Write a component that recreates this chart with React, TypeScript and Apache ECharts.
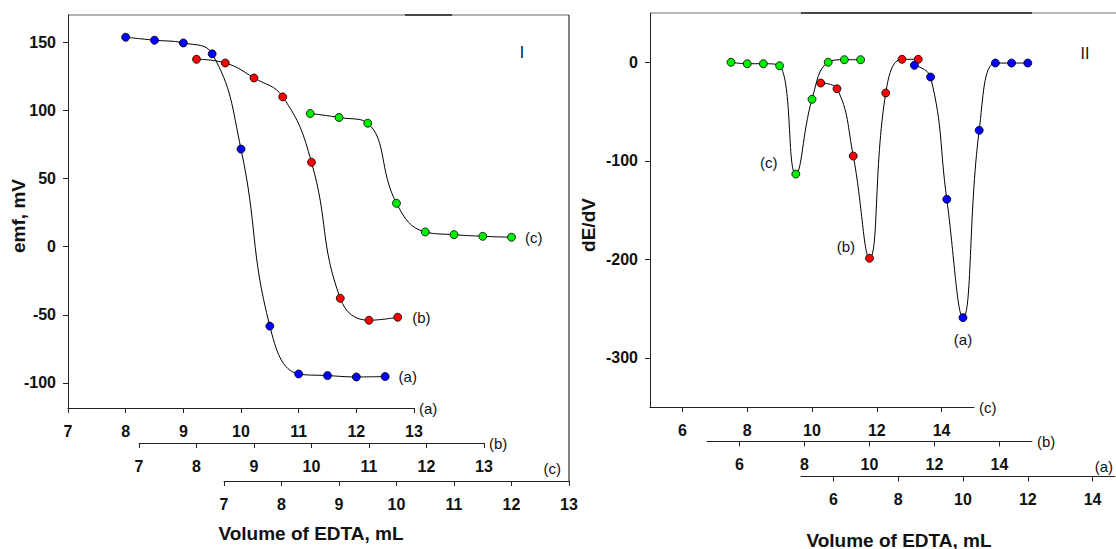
import React, { useEffect, useRef } from "react";
import * as echarts from "echarts";

// ---------- data ----------
// Panel I : emf vs volume of EDTA, each series on its own x axis
const emfAx = [8, 8.5, 9, 9.5, 10, 10.5, 11, 11.5, 12, 12.5];
const emfAy = [153.7, 151.5, 149.5, 141.5, 71.6, -58.3, -93.4, -94.6, -95.6, -95.3];
const emfBx = [8, 8.5, 9, 9.5, 10, 10.5, 11, 11.5];
const emfBy = [137.5, 134.8, 123.8, 109.9, 61.9, -37.9, -54.0, -51.8];
const emfCx = [8.5, 9, 9.5, 10, 10.5, 11, 11.5, 12];
const emfCy = [97.7, 94.8, 90.6, 31.8, 10.8, 8.8, 7.6, 6.9];

// Panel II : dE/dV vs volume of EDTA
const dCx = [7.5, 8, 8.5, 9, 9.5, 10, 10.5, 11, 11.5];
const dCy = [0, -1.5, -1.5, -3.5, -113.5, -37.6, 0, 2.6, 2.6];
const dBx = [8.5, 9, 9.5, 10, 10.5, 11, 11.5];
const dBy = [-21.1, -26.9, -95.2, -199, -31.2, 3, 3];
const dAx = [8.5, 9, 9.5, 10, 10.5, 11, 11.5, 12];
const dAy = [-3.1, -15, -139.1, -259.3, -69.1, -0.8, -0.8, -0.8];

// tick labels
const leftXTicks = [7, 8, 9, 10, 11, 12, 13];
const rightXTicks = [6, 8, 10, 12, 14];
const leftYTicks = [-100, -50, 0, 50, 100, 150];
const rightYTicks = [-300, -200, -100, 0];

const FONT = "'Liberation Sans', Arial, Helvetica, sans-serif";
const AXIS_COLOR = "#222";

type Lbl = { idx: number; text: string; position: string; distance: number; offset?: number[] } | null;

function makeData(xs: number[], ys: number[], lbl: Lbl) {
  return xs.map((x, i) => {
    if (lbl && lbl.idx === i) {
      return {
        value: [x, ys[i]],
        label: {
          show: true,
          formatter: lbl.text,
          position: lbl.position,
          distance: lbl.distance,
          offset: lbl.offset || [0, 0],
          color: "#111",
          fontSize: 15,
          fontFamily: FONT,
        },
      };
    }
    return [x, ys[i]];
  });
}

function series(name: string, idx: number, xs: number[], ys: number[], color: string, lbl: Lbl) {
  return {
    name,
    type: "line",
    xAxisIndex: idx,
    yAxisIndex: idx,
    smooth: 0.45,
    symbol: "circle",
    symbolSize: 8,
    showSymbol: true,
    clip: false,
    lineStyle: { color: "#000", width: 1 },
    itemStyle: { color, borderColor: "#000", borderWidth: 0.8 },
    data: makeData(xs, ys, lbl),
    z: 3,
  };
}

function xAxis(idx: number, min: number, max: number, ticks: number[], name: string, offset: number, nameOpts: any) {
  return {
    type: "value",
    gridIndex: idx,
    min,
    max,
    position: "bottom",
    offset,
    name,
    nameLocation: "end",
    ...nameOpts,
    axisLine: { show: true, onZero: false, lineStyle: { color: AXIS_COLOR, width: 1 } },
    axisTick: { show: true, inside: false, length: 5, customValues: ticks, lineStyle: { color: AXIS_COLOR } },
    axisLabel: {
      show: true,
      customValues: ticks,
      margin: 15,
      color: "#111",
      fontSize: 16,
      fontWeight: "bold",
      fontFamily: FONT,
    },
    splitLine: { show: false },
  };
}

function yAxis(idx: number, min: number, max: number, ticks: number[], show: boolean) {
  return {
    type: "value",
    gridIndex: idx,
    min,
    max,
    show,
    position: "left",
    axisLine: { show: true, onZero: false, lineStyle: { color: AXIS_COLOR, width: 1 } },
    axisTick: { show: true, inside: false, length: 5, customValues: ticks, lineStyle: { color: AXIS_COLOR } },
    axisLabel: {
      show: true,
      customValues: ticks,
      margin: 12,
      color: "#111",
      fontSize: 16,
      fontWeight: "bold",
      fontFamily: FONT,
    },
    splitLine: { show: false },
  };
}

const nameRightOf = { nameGap: 5, nameTextStyle: { fontSize: 15, fontFamily: FONT, color: "#111", align: "left", verticalAlign: "middle" } };
const nameAboveEnd = (gap: number, pad: number) => ({
  nameGap: gap,
  nameTextStyle: { fontSize: 15, fontFamily: FONT, color: "#111", align: "right", verticalAlign: "bottom", padding: [0, 0, pad, 0] },
});

export default function App() {
  const ref = useRef<HTMLDivElement>(null);

  useEffect(() => {
    if (!ref.current) return;
    const chart = echarts.init(ref.current, undefined, { renderer: "svg" });

    const LY = [-118.4, 170];
    const RY = [-350, 50];
    // the lowest axis of panel II runs past the right edge of the picture:
    // 32.5 px per mL, visible width 315 px
    const rightAMax = 5 + 315 / 32.5;

    const option: any = {
      animation: false,
      backgroundColor: "#fff",
      textStyle: { fontFamily: FONT },
      grid: [
        // Panel I
        { left: 68, width: 346, top: 15, height: 393 },
        { left: 139, width: 345, top: 15, height: 393 },
        { left: 224, width: 345, top: 15, height: 393 },
        // Panel II
        { left: 650, width: 324, top: 13, height: 394 },
        { left: 707, width: 325, top: 13, height: 394 },
        { left: 801, width: 315, top: 13, height: 394 },
      ],
      xAxis: [
        xAxis(0, 7, 13, leftXTicks, "(a)", 0, nameRightOf),
        xAxis(1, 7, 13, leftXTicks, "(b)", 35, nameRightOf),
        xAxis(2, 7, 13, leftXTicks, "(c)", 73, nameAboveEnd(-8, 5)),
        xAxis(3, 5, 15, rightXTicks, "(c)", 0, nameRightOf),
        xAxis(4, 5, 15, rightXTicks, "(b)", 34.5, nameRightOf),
        xAxis(5, 5, rightAMax, rightXTicks, "(a)", 69.5, nameAboveEnd(-2, 3)),
      ],
      yAxis: [
        yAxis(0, LY[0], LY[1], leftYTicks, true),
        yAxis(1, LY[0], LY[1], leftYTicks, false),
        yAxis(2, LY[0], LY[1], leftYTicks, false),
        yAxis(3, RY[0], RY[1], rightYTicks, true),
        yAxis(4, RY[0], RY[1], rightYTicks, false),
        yAxis(5, RY[0], RY[1], rightYTicks, false),
      ],
      series: [
        series("I (a)", 0, emfAx, emfAy, "#0000ff", { idx: emfAx.length - 1, text: "(a)", position: "right", distance: 9 }),
        series("I (b)", 1, emfBx, emfBy, "#ff0000", { idx: emfBx.length - 1, text: "(b)", position: "right", distance: 10 }),
        series("I (c)", 2, emfCx, emfCy, "#00ee00", { idx: emfCx.length - 1, text: "(c)", position: "right", distance: 9 }),
        series("II (c)", 3, dCx, dCy, "#00ee00", { idx: 4, text: "(c)", position: "left", distance: 14, offset: [0, -12] }),
        series("II (b)", 4, dBx, dBy, "#ff0000", { idx: 3, text: "(b)", position: "left", distance: 10, offset: [0, -12] }),
        series("II (a)", 5, dAx, dAy, "#0000ff", { idx: 3, text: "(a)", position: "bottom", distance: 10 }),
      ],
      graphic: [
        // Panel I frame (top and right)
        { type: "line", shape: { x1: 68, y1: 15, x2: 569, y2: 15 }, style: { stroke: "#666", lineWidth: 1.2 } },
        { type: "line", shape: { x1: 405, y1: 15, x2: 452, y2: 15 }, style: { stroke: "#222", lineWidth: 1.6 } },
        { type: "line", shape: { x1: 569, y1: 15, x2: 569, y2: 481 }, style: { stroke: "#333", lineWidth: 1.2 } },
        // Panel II frame (top)
        { type: "line", shape: { x1: 651, y1: 13, x2: 1116, y2: 13 }, style: { stroke: "#777", lineWidth: 1.2 } },
        { type: "line", shape: { x1: 801, y1: 13, x2: 1032, y2: 13 }, style: { stroke: "#222", lineWidth: 1.6 } },
        // panel markers
        { type: "text", x: 522, y: 52, style: { text: "I", fill: "#111", fontSize: 16, fontFamily: FONT, align: "center", verticalAlign: "middle" } },
        { type: "text", x: 1085, y: 53, style: { text: "II", fill: "#111", fontSize: 16, fontFamily: FONT, align: "center", verticalAlign: "middle" } },
        // axis titles
        { type: "text", x: 311, y: 533, style: { text: "Volume of EDTA, mL", fill: "#111", fontSize: 19, fontWeight: "bold", fontFamily: FONT, align: "center", verticalAlign: "middle" } },
        { type: "text", x: 899, y: 540, style: { text: "Volume of EDTA, mL", fill: "#111", fontSize: 19, fontWeight: "bold", fontFamily: FONT, align: "center", verticalAlign: "middle" } },
        { type: "text", x: 18, y: 216, rotation: Math.PI / 2, style: { text: "emf, mV", fill: "#111", fontSize: 19, fontWeight: "bold", fontFamily: FONT, align: "center", verticalAlign: "middle" } },
        { type: "text", x: 588, y: 225, rotation: Math.PI / 2, style: { text: "dE/dV", fill: "#111", fontSize: 19, fontWeight: "bold", fontFamily: FONT, align: "center", verticalAlign: "middle" } },
      ],
    };

    chart.setOption(option);
    return () => chart.dispose();
  }, []);

  return <div ref={ref} style={{ width: 1116, height: 549, position: "absolute", left: 0, top: 0 }} />;
}
